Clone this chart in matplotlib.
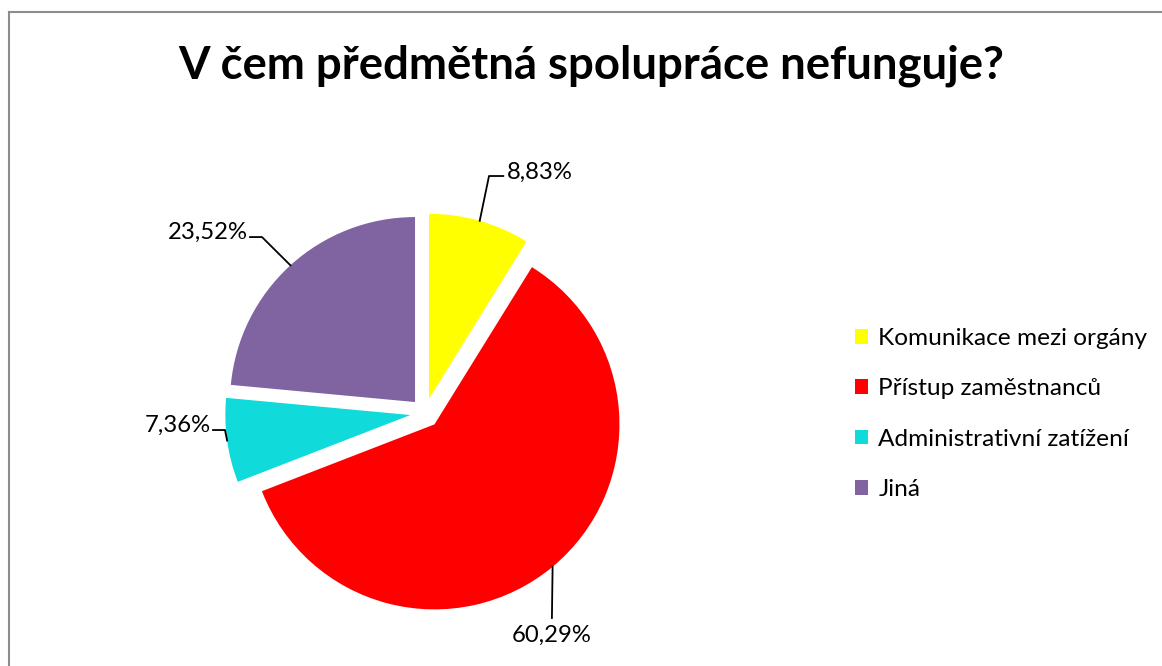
import numpy as np
import matplotlib.pyplot as plt
from matplotlib.patches import Patch

categories = ['Komunikace mezi orgány', 'Přístup zaměstnanců',
              'Administrativní zatížení', 'Jiná']
values = [8.83, 60.29, 7.36, 23.52]
labels = ['8,83%', '60,29%', '7,36%', '23,52%']
colors = ['#FFFF00', '#FF0000', '#11DADA', '#8064A2']

plt.rcParams['font.family'] = ['Lato', 'DejaVu Sans']

W, H = 1162, 666
fig = plt.figure(figsize=(W / 100, H / 100), dpi=100)

# frame of the chart area (only left and top edges visible)
fig.add_artist(plt.Line2D([9 / W, 9 / W], [0, 1 - 12 / H], color='#8c8c8c', lw=1.5))
fig.add_artist(plt.Line2D([9 / W, 1], [1 - 12 / H, 1 - 12 / H], color='#8c8c8c', lw=1.5))

fig.text(591 / W, 1 - 66 / H, 'V čem předmětná spolupráce nefunguje?',
         ha='center', va='center', fontsize=32.8, fontweight='bold')

# pie axes: centre at (425, 413) px, radius 185 px
cx, cy, R = 425, 413, 185
half = 260
ax = fig.add_axes([(cx - half) / W, (H - cy - half) / H, 2 * half / W, 2 * half / H])

explode = [0.08] * 4
wedges, _ = ax.pie(values, colors=colors, startangle=90, counterclock=False,
                   explode=explode, radius=1)
ax.set_xlim(-half / R, half / R)
ax.set_ylim(-half / R, half / R)
ax.axis('off')

# label layout: elbow point, line end, text position (data units), alignment
lab_layout = [
    ((0.346, 1.281), (0.423, 1.281), (0.440, 1.30), 'left', 'center'),
    ((0.686, -1.108), (0.686, -1.108), (0.686, -1.145), 'center', 'top'),
    ((-1.081, -0.092), (-1.146, -0.092), (-1.160, -0.066), 'right', 'center'),
    ((-0.881, 0.951), (-0.946, 0.951), (-0.960, 0.975), 'right', 'center'),
]

for w, lab, (elb, end, tpos, ha, va) in zip(wedges, labels, lab_layout):
    mid = np.deg2rad((w.theta1 + w.theta2) / 2)
    x0 = w.center[0] + w.r * np.cos(mid)
    y0 = w.center[1] + w.r * np.sin(mid)
    ax.plot([x0, elb[0], end[0]], [y0, elb[1], end[1]], color='black', lw=1.3)
    ax.text(tpos[0], tpos[1], lab, ha=ha, va=va, fontsize=17.2)

handles = [Patch(facecolor=c, edgecolor='none') for c in colors]
fig.legend(handles, categories, loc='center left',
           bbox_to_anchor=(833 / W, 1 - 414 / H), frameon=False,
           fontsize=17.6, handlelength=0.55, handleheight=0.55,
           handletextpad=0.4, labelspacing=1.2)

fig.savefig('out.png', dpi=100)
